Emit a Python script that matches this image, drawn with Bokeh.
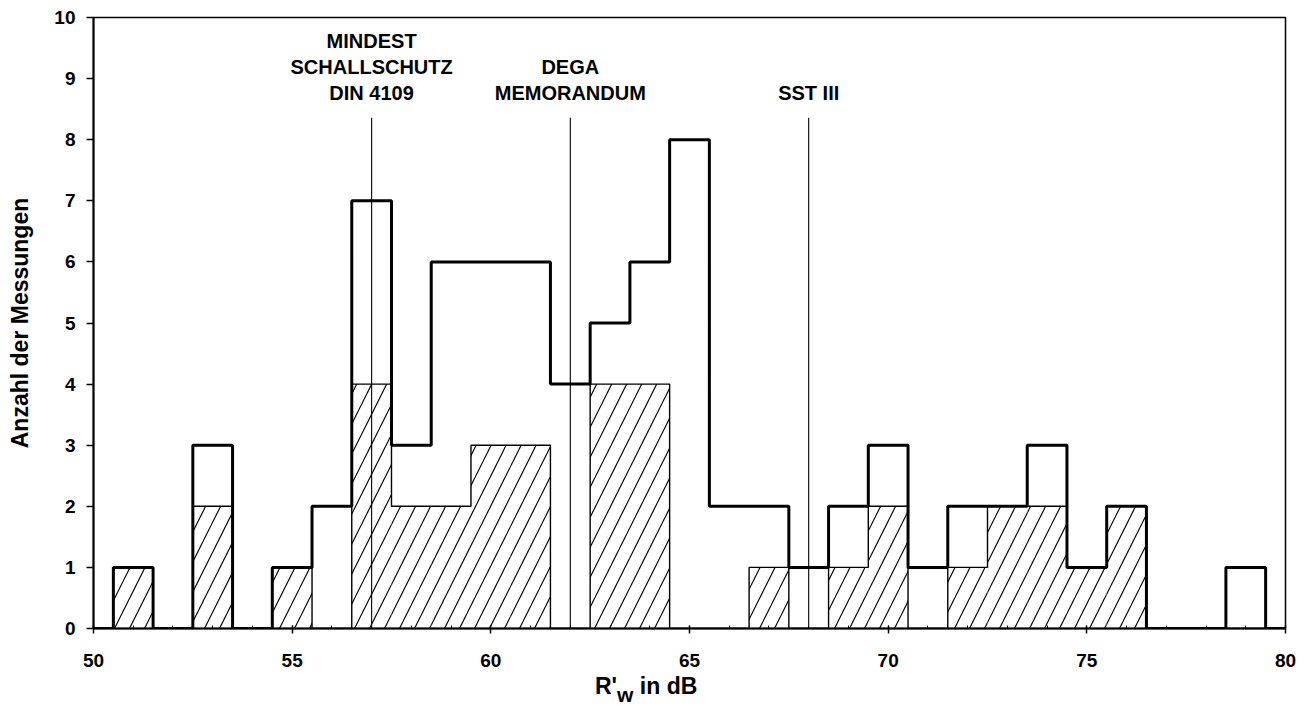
import numpy as np
from bokeh.plotting import figure
from bokeh.models import Range1d, FixedTicker, Div
from bokeh.layouts import column
from bokeh.core.properties import value
from bokeh.embed import file_html
from bokeh.resources import INLINE

# --- data -------------------------------------------------------------
bins = list(range(50, 81))  # R'w in dB (bin centres, width 1 dB)
total_counts = [0, 1, 0, 3, 0, 1, 2, 7, 3, 6, 6, 6, 4, 5, 6, 8,
                2, 2, 1, 2, 3, 1, 2, 2, 3, 1, 2, 0, 0, 1, 0]
hatched_counts = [0, 1, 0, 2, 0, 1, 0, 4, 2, 2, 3, 3, 0, 4, 4, 0,
                  0, 1, 0, 1, 2, 0, 1, 2, 2, 1, 2, 0, 0, 0, 0]
ref_x = [57, 62, 68]
ref_labels = ["MINDEST\nSCHALLSCHUTZ\nDIN 4109", "DEGA\nMEMORANDUM", "SST III"]
ref_line_top = 8.36
ref_label_y = 8.58
x_ticks = [50, 55, 60, 65, 70, 75, 80]
x_minor = list(range(50, 81))
y_ticks = list(range(0, 11))
y_title = "Anzahl der Messungen"

FONT = "Liberation Sans"

p = figure(width=1300, height=673, output_backend="svg", toolbar_location=None,
           x_range=Range1d(50, 80), y_range=Range1d(0, 10),
           min_border_left=93, min_border_right=15, min_border_top=17,
           min_border_bottom=45)
p.background_fill_color = "white"
p.border_fill_color = "white"
p.outline_line_color = "black"
p.outline_line_width = 1.5
p.xgrid.visible = False
p.ygrid.visible = False

# hatched sub-histogram
p.vbar(x=bins, top=hatched_counts, width=1.0, fill_alpha=0, line_color=None,
       hatch_pattern="/", hatch_color="black", hatch_scale=30, hatch_weight=1.2)
p.step(x=bins, y=hatched_counts, mode="center", line_color="black", line_width=1.4)

# total histogram (thick outline)
p.step(x=bins, y=total_counts, mode="center", line_color="black", line_width=3)

# reference lines
p.segment(x0=ref_x, y0=[0] * len(ref_x), x1=ref_x, y1=[ref_line_top] * len(ref_x),
          line_color="black", line_width=1.1)
p.text(x=ref_x, y=[ref_label_y] * len(ref_x), text=ref_labels,
       text_align="center", text_baseline="bottom",
       text_font=value(FONT), text_font_style="bold", text_font_size="20px",
       text_line_height=1.19, text_color="black")

# axes
for ax in (p.xaxis, p.yaxis):
    ax.axis_line_color = "black"
    ax.axis_line_width = 2
    ax.major_tick_line_color = "black"
    ax.major_tick_line_width = 1.5
    ax.major_label_text_font = FONT
    ax.major_label_text_font_style = "bold"
    ax.major_label_text_font_size = "19px"
    ax.major_label_text_color = "black"

p.xaxis.ticker = FixedTicker(ticks=x_ticks, minor_ticks=x_minor)
p.xaxis.major_tick_in = 3
p.xaxis.major_tick_out = 5
p.xaxis.minor_tick_in = 3
p.xaxis.minor_tick_out = 0
p.xaxis.minor_tick_line_color = "black"
p.xaxis.minor_tick_line_width = 1
p.xaxis.major_label_standoff = 20

p.yaxis.ticker = FixedTicker(ticks=y_ticks)
p.yaxis.major_tick_in = 0
p.yaxis.major_tick_out = 7
p.yaxis.minor_tick_line_color = None
p.yaxis.major_label_standoff = 11
p.yaxis.axis_label = y_title
p.yaxis.axis_label_text_font = FONT
p.yaxis.axis_label_text_font_style = "bold"
p.yaxis.axis_label_text_font_size = "23px"
p.yaxis.axis_label_text_color = "black"
p.yaxis.axis_label_standoff = 18

# x axis title with subscript: R'_w in dB
x_title_html = (
    "<div style=\"margin-left:595px; font-family:'Liberation Sans'; font-weight:bold; "
    "font-size:23px; line-height:26px; color:black; white-space:nowrap;\">"
    "R'<span style=\"font-size:21px; position:relative; top:8px;\">w</span> in dB</div>"
)
xtitle = Div(text=x_title_html, width=1300, height=34, margin=(0, 0, 0, 0))

layout = column(p, xtitle, spacing=0)
open("out.html", "w").write(file_html(layout, INLINE))
